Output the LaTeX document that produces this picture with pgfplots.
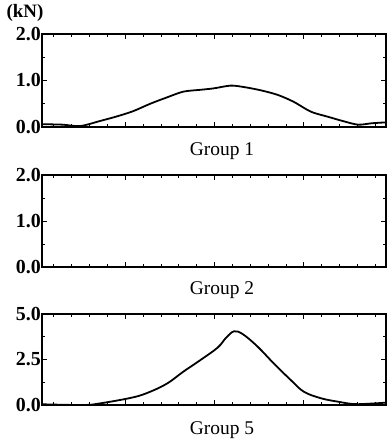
\documentclass[border=0pt]{standalone}
\usepackage{pgfplots}
\pgfplotsset{compat=1.18}
\usepackage{fontspec}
\setmainfont{Liberation Serif}

\pgfplotsset{panel/.style={
  scale only axis, width=344bp, anchor=south west,
  xmin=-0.66, xmax=18.6,
  xtick={4,9,14}, xticklabels={},
  minor xtick={0,...,18},
  tick align=inside,
  major tick length=5bp, minor tick length=3bp,
  yticklabel pos=left,
  yticklabel style={font=\bfseries\fontsize{20}{20}\selectfont, inner sep=1pt,
    /pgf/number format/.cd, fixed, fixed zerofill, precision=1, assume math mode=true},
  axis line style={line width=1.1pt},
  every tick/.style={black, line width=0.8pt},
  clip=false,
}}

\begin{document}
\begin{tikzpicture}
\useasboundingbox (0,0) rectangle (388bp,444bp);

\begin{axis}[panel, at={(42bp,317bp)}, height=93bp,
  ymin=0, ymax=2, ytick={0,1,2}, minor ytick={0.5,1.5}]
\addplot[black, line width=1.8pt, smooth, tension=0.5] coordinates {
(-0.66,0.06) (0.5,0.05) (1.47,0.02) (2.60,0.13) (3.55,0.23) (4.44,0.34)
(5.40,0.50) (6.36,0.64) (7.25,0.76) (8.21,0.80) (8.94,0.83) (9.90,0.89)
(10.63,0.86) (11.58,0.79) (12.54,0.69) (13.44,0.54) (14.39,0.33) (15.35,0.22)
(16.26,0.12) (17.04,0.05) (17.8,0.08) (18.6,0.10)};
\end{axis}

\begin{axis}[panel, at={(42bp,177bp)}, height=92bp,
  ymin=0, ymax=2, ytick={0,1,2}, minor ytick={0.5,1.5}]
\addplot[black, line width=1.8pt] coordinates {(-0.66,0) (18.6,0)};
\end{axis}

\begin{axis}[panel, at={(42bp,39bp)}, height=91bp,
  ymin=0, ymax=5, ytick={0,2.5,5}, minor ytick={1.25,3.75}]
\addplot[black, line width=1.8pt, smooth, tension=0.6] coordinates {
(-0.66,0.04) (1.64,0.00) (2.60,0.09) (4.44,0.42) (5.40,0.73) (6.36,1.19)
(7.25,1.83) (8.21,2.47) (9.17,3.15) (9.65,3.7) (10.1,4.05) (10.6,3.88)
(11.42,3.20) (12.31,2.29) (13.27,1.37) (14.00,0.73) (14.96,0.37)
(15.92,0.18) (16.82,0.05) (17.8,0.08) (18.6,0.13)};
\end{axis}

\node[font=\bfseries\fontsize{19}{19}\selectfont] at (25bp,431bp) {(kN)};
\node[font=\fontsize{19.5}{19.5}\selectfont] at (222bp,293bp) {Group 1};
\node[font=\fontsize{19.5}{19.5}\selectfont] at (222bp,154bp) {Group 2};
\node[font=\fontsize{19.5}{19.5}\selectfont] at (222bp,14bp) {Group 5};
\end{tikzpicture}
\end{document}
